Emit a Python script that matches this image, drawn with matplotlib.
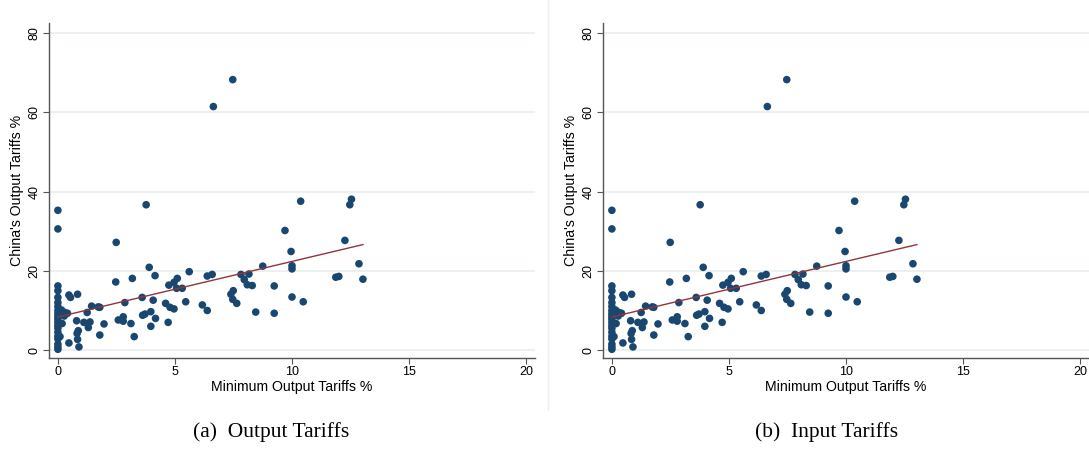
import numpy as np
import matplotlib
matplotlib.use("Agg")
import matplotlib.pyplot as plt
from matplotlib.lines import Line2D

# minimum output tariff (x) vs China's output tariff (y)
min_tariff = [
    0, 0, 0, 0, 0, 0, 0, 0, 0, 0, 0, 0, 0, 0, 0, 0, 0, 0, 0, 0,
    0.09, 0.16, 0.18, 0.27, 0.30, 0.41, 0.47, 0.47, 0.54, 0.80, 0.82, 0.84,
    0.84, 0.87, 0.90, 1.11, 1.25, 1.30, 1.37, 1.44, 1.72, 1.79, 1.79, 1.97,
    2.47, 2.49, 2.58, 2.79, 2.79, 2.86, 3.12, 3.18, 3.26, 3.60, 3.62, 3.72,
    3.77, 3.90, 3.97, 3.97, 4.07, 4.15, 4.17, 4.60, 4.71, 4.74, 4.79, 4.96,
    4.96, 5.07, 5.10, 5.31, 5.46, 5.61, 6.17, 6.38, 6.38, 6.59, 6.64, 7.39,
    7.47, 7.47, 7.49, 7.64, 7.82, 7.96, 8.09, 8.16, 8.30, 8.45, 8.75, 9.24,
    9.24, 9.70, 9.96, 10.0, 10.0, 10.0, 10.37, 10.48, 11.87, 12.0, 12.26,
    12.47, 12.54, 12.86, 13.03,
]
china_tariff = [
    35.3, 30.6, 16.2, 15.0, 13.3, 12.0, 11.0, 10.0, 9.2, 8.5, 7.8, 7.0,
    6.2, 5.5, 4.5, 3.5, 2.8, 1.5, 0.8, 0.2,
    3.4, 10.1, 6.7, 8.6, 9.5, 9.3, 13.9, 1.8, 13.3, 7.4, 4.2, 14.1,
    2.7, 4.9, 0.8, 7.0, 9.5, 5.7, 7.1, 11.1, 10.9, 10.8, 3.8, 6.6,
    17.2, 27.2, 7.6, 8.4, 7.3, 12.0, 6.7, 18.1, 3.4, 13.3, 8.8, 9.1,
    36.7, 20.9, 9.7, 6.0, 12.6, 18.8, 8.0, 11.8, 7.0, 16.4, 10.8, 17.1,
    10.4, 15.6, 18.1, 15.6, 12.2, 19.8, 11.4, 10.0, 18.7, 19.1, 61.5, 14.1,
    12.8, 68.3, 15.0, 11.8, 19.1, 17.8, 16.5, 19.2, 16.3, 9.6, 21.2, 16.2,
    9.3, 30.2, 24.9, 21.3, 20.5, 13.4, 37.6, 12.2, 18.4, 18.6, 27.7,
    36.7, 38.1, 21.8, 17.9,
]

x_ticks = [0, 5, 10, 15, 20]
y_ticks = [0, 20, 40, 60, 80]
captions = ["(a)  Output Tariffs", "(b)  Input Tariffs"]

DOT = "#1a476f"
FIT = "#90353b"
GRID = "#e9f0f0"

x = np.array(min_tariff)
y = np.array(china_tariff)
slope, icpt = np.polyfit(x, y, 1)
xl = np.array([x.min(), x.max()])

fig = plt.figure(figsize=(10.89, 4.53), dpi=100)
plt.rcParams['font.family'] = ['Liberation Sans', 'DejaVu Sans']

W, H = 1089.0, 453.0
panels = [(49, 23, 486, 335), (603, 23, 486, 335)]
cap_x = [271, 827]

for i, (l, t, w, h) in enumerate(panels):
    ax = fig.add_axes([l / W, 1 - (t + h) / H, w / W, h / H])
    ax.scatter(x, y, s=30, color=DOT, edgecolors='none', zorder=3)
    ax.plot(xl, icpt + slope * xl, color=FIT, lw=1.0, zorder=4)
    ax.set_xlim(-0.38, 20.38)
    ax.set_ylim(-2.0, 82.6)
    ax.set_xticks(x_ticks)
    ax.set_yticks(y_ticks)
    ax.yaxis.grid(True, color=GRID, lw=1.3)
    ax.set_axisbelow(True)
    for s in ['top', 'right']:
        ax.spines[s].set_visible(False)
    for s in ['left', 'bottom']:
        ax.spines[s].set_color('#555555')
        ax.spines[s].set_linewidth(1.0)
    ax.tick_params(length=4, width=0.8, color='#555555', labelsize=9, pad=2)
    for lab in ax.get_yticklabels():
        lab.set_rotation(90)
        lab.set_va('center')
    ax.set_ylabel("China's Output Tariffs %", fontsize=10.2, labelpad=3)
    ax.set_xlabel("Minimum Output Tariffs %", fontsize=10.2, labelpad=1)
    fig.text(cap_x[i] / W, 1 - 432 / H, captions[i], ha='center', va='center',
             fontsize=15.5, family=['Liberation Serif', 'DejaVu Serif'])

# faint frame edge between the two sub-figures
fig.add_artist(Line2D([548 / W, 548 / W], [1 - 410 / H, 1.0],
                      color='#eeeeee', lw=1.0))

fig.savefig("out.png", dpi=100)
